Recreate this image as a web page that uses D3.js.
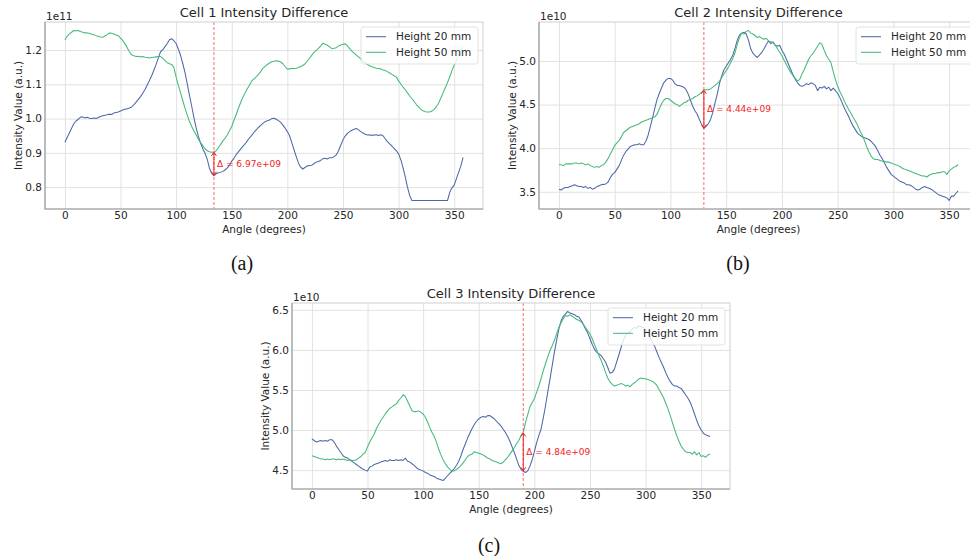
<!DOCTYPE html>
<html>
<head>
<meta charset="utf-8">
<script src="https://cdn.jsdelivr.net/npm/d3@7/dist/d3.min.js"></script>
<style>
  body { margin: 0; background: #fff; }
  svg { display: block; font-family: "DejaVu Sans", sans-serif; }
</style>
</head>
<body>
<svg id="figure" width="970" height="556"></svg>
<script>
// ---- data ----
var angleStep = 2;
var angles = d3.range(0, 360, angleStep); // 0, 2, ... 358 degrees
var xTickValues = [0, 50, 100, 150, 200, 250, 300, 350];
var seriesNames = ["Height 20 mm", "Height 50 mm"];
var seriesColors = ["#4c69a7", "#45b97b"];

// Cell 1, values in units of 1e11
var cell1H20 = [
  0.931,0.945,0.958,0.972,0.985,0.993,0.998,1.004,1.005,1.002,
  1.004,1.001,1.000,1.002,1.000,1.003,1.006,1.008,1.010,1.011,
  1.013,1.012,1.016,1.018,1.019,1.022,1.025,1.027,1.029,1.031,
  1.034,1.040,1.048,1.056,1.064,1.074,1.085,1.098,1.111,1.125,
  1.141,1.158,1.177,1.195,1.201,1.210,1.219,1.230,1.233,1.227,
  1.219,1.203,1.184,1.160,1.134,1.101,1.068,1.036,1.003,0.973,
  0.948,0.928,0.912,0.899,0.881,0.855,0.840,0.8333,0.839,0.842,
  0.843,0.846,0.850,0.856,0.864,0.876,0.884,0.895,0.903,0.911,
  0.919,0.926,0.935,0.944,0.951,0.960,0.967,0.974,0.980,0.986,
  0.991,0.994,0.996,1.000,1.001,0.998,0.994,0.989,0.981,0.972,
  0.962,0.950,0.930,0.909,0.889,0.870,0.858,0.853,0.858,0.862,
  0.863,0.864,0.869,0.873,0.875,0.878,0.883,0.884,0.882,0.886,
  0.886,0.889,0.894,0.906,0.922,0.938,0.949,0.957,0.962,0.966,
  0.969,0.971,0.967,0.962,0.958,0.954,0.952,0.953,0.951,0.952,
  0.953,0.951,0.953,0.950,0.941,0.933,0.926,0.920,0.913,0.906,
  0.897,0.880,0.857,0.830,0.800,0.775,0.761,0.761,0.761,0.761,
  0.761,0.761,0.761,0.761,0.761,0.761,0.761,0.761,0.761,0.761,
  0.761,0.761,0.761,0.785,0.798,0.806,0.825,0.843,0.862,0.887
];
var cell1H50 = [
  1.230,1.240,1.247,1.252,1.257,1.256,1.257,1.254,1.252,1.250,
  1.250,1.249,1.246,1.245,1.242,1.240,1.238,1.237,1.241,1.245,
  1.250,1.249,1.247,1.244,1.242,1.235,1.228,1.218,1.207,1.195,
  1.186,1.183,1.181,1.182,1.180,1.181,1.179,1.178,1.177,1.178,
  1.179,1.180,1.181,1.181,1.176,1.169,1.163,1.160,1.158,1.149,
  1.121,1.097,1.075,1.052,1.030,1.010,0.992,0.977,0.964,0.952,
  0.940,0.930,0.921,0.912,0.906,0.903,0.902,0.9030,0.906,0.915,
  0.924,0.935,0.942,0.952,0.965,0.977,0.995,1.012,1.030,1.047,
  1.062,1.075,1.087,1.098,1.110,1.116,1.122,1.129,1.137,1.147,
  1.152,1.158,1.162,1.166,1.167,1.169,1.168,1.165,1.160,1.152,
  1.144,1.145,1.146,1.146,1.147,1.149,1.152,1.155,1.160,1.168,
  1.176,1.185,1.193,1.199,1.205,1.212,1.220,1.217,1.214,1.209,
  1.204,1.205,1.207,1.212,1.215,1.217,1.218,1.212,1.204,1.197,
  1.191,1.185,1.180,1.174,1.168,1.162,1.158,1.154,1.151,1.149,
  1.147,1.146,1.145,1.142,1.140,1.137,1.133,1.129,1.125,1.121,
  1.110,1.101,1.092,1.084,1.075,1.066,1.058,1.050,1.041,1.034,
  1.027,1.023,1.020,1.019,1.019,1.022,1.027,1.035,1.045,1.060,
  1.075,1.090,1.105,1.122,1.140,1.156,1.170,1.188,1.200,1.208
];

// Cell 2, values in units of 1e10
var cell2H20 = [
  3.53,3.52,3.54,3.55,3.55,3.56,3.57,3.58,3.57,3.56,
  3.56,3.55,3.56,3.54,3.55,3.53,3.54,3.56,3.57,3.58,
  3.585,3.59,3.61,3.66,3.70,3.72,3.76,3.80,3.86,3.92,
  3.96,3.99,4.02,4.03,4.04,4.04,4.05,4.04,4.04,4.08,
  4.15,4.25,4.35,4.46,4.56,4.63,4.69,4.75,4.78,4.80,
  4.80,4.78,4.74,4.72,4.72,4.71,4.70,4.67,4.62,4.55,
  4.48,4.43,4.39,4.33,4.27,4.226,4.25,4.28,4.33,4.41,
  4.52,4.62,4.74,4.83,4.90,4.94,4.98,5.02,5.07,5.15,
  5.24,5.30,5.32,5.33,5.31,5.24,5.14,5.09,5.06,5.04,
  5.07,5.10,5.14,5.19,5.23,5.20,5.22,5.18,5.17,5.18,
  5.12,5.08,5.02,4.96,4.90,4.84,4.79,4.75,4.72,4.71,
  4.72,4.74,4.73,4.75,4.74,4.72,4.66,4.70,4.69,4.71,
  4.68,4.70,4.66,4.69,4.66,4.63,4.58,4.52,4.46,4.41,
  4.36,4.30,4.25,4.21,4.17,4.15,4.13,4.12,4.11,4.10,
  4.08,4.05,4.02,3.97,3.92,3.88,3.83,3.78,3.74,3.70,
  3.68,3.66,3.64,3.62,3.61,3.60,3.58,3.58,3.57,3.55,
  3.53,3.52,3.53,3.55,3.56,3.55,3.54,3.53,3.51,3.49,
  3.47,3.46,3.45,3.44,3.43,3.40,3.45,3.45,3.48,3.51
];
var cell2H50 = [
  3.81,3.81,3.80,3.82,3.82,3.82,3.82,3.83,3.83,3.82,
  3.83,3.82,3.81,3.82,3.80,3.79,3.78,3.79,3.78,3.80,
  3.81,3.84,3.88,3.93,3.98,4.03,4.06,4.09,4.13,4.18,
  4.20,4.22,4.24,4.25,4.26,4.27,4.28,4.30,4.31,4.32,
  4.33,4.34,4.35,4.36,4.39,4.45,4.51,4.55,4.57,4.57,
  4.55,4.53,4.51,4.50,4.48,4.50,4.52,4.53,4.55,4.56,
  4.57,4.59,4.60,4.62,4.64,4.670,4.67,4.67,4.68,4.70,
  4.72,4.74,4.77,4.81,4.85,4.89,4.93,4.98,5.03,5.10,
  5.19,5.27,5.32,5.31,5.34,5.35,5.32,5.31,5.29,5.27,
  5.28,5.26,5.25,5.26,5.23,5.22,5.21,5.18,5.14,5.10,
  5.06,5.01,4.96,4.91,4.87,4.83,4.80,4.77,4.79,4.85,
  4.90,4.96,5.02,5.06,5.09,5.13,5.17,5.21,5.19,5.12,
  5.06,5.02,4.98,4.88,4.79,4.71,4.65,4.60,4.54,4.49,
  4.44,4.40,4.35,4.31,4.26,4.20,4.15,4.09,4.02,3.96,
  3.91,3.88,3.87,3.87,3.86,3.85,3.85,3.84,3.84,3.83,
  3.82,3.81,3.80,3.79,3.77,3.76,3.75,3.74,3.73,3.72,
  3.71,3.70,3.69,3.68,3.68,3.67,3.69,3.70,3.71,3.71,
  3.72,3.72,3.73,3.73,3.70,3.74,3.76,3.78,3.79,3.81
];

// Cell 3, values in units of 1e10
var cell3H20 = [
  4.89,4.87,4.85,4.86,4.87,4.86,4.87,4.86,4.88,4.88,
  4.85,4.80,4.76,4.72,4.68,4.66,4.65,4.63,4.61,4.59,
  4.57,4.55,4.53,4.51,4.50,4.49,4.54,4.55,4.57,4.58,
  4.59,4.60,4.61,4.62,4.61,4.63,4.62,4.62,4.63,4.62,
  4.63,4.62,4.65,4.61,4.60,4.58,4.56,4.53,4.51,4.50,
  4.49,4.47,4.46,4.44,4.43,4.42,4.40,4.39,4.38,4.37,
  4.40,4.43,4.46,4.49,4.52,4.56,4.61,4.68,4.76,4.83,
  4.90,4.96,5.02,5.07,5.11,5.14,5.16,5.17,5.16,5.18,
  5.18,5.16,5.14,5.11,5.08,5.05,5.01,4.97,4.92,4.86,
  4.79,4.72,4.64,4.56,4.51,4.486,4.47,4.49,4.55,4.63,
  4.73,4.84,4.93,5.01,5.15,5.30,5.47,5.63,5.80,5.97,
  6.12,6.26,6.36,6.42,6.45,6.48,6.46,6.45,6.44,6.42,
  6.41,6.37,6.32,6.26,6.21,6.14,6.07,6.01,5.97,5.95,
  5.93,5.89,5.85,5.78,5.71,5.72,5.76,5.85,5.94,6.03,
  6.12,6.18,6.21,6.23,6.26,6.28,6.27,6.30,6.29,6.28,
  6.25,6.21,6.16,6.10,6.05,5.98,5.91,5.85,5.79,5.72,
  5.66,5.61,5.57,5.55,5.55,5.53,5.52,5.48,5.44,5.40,
  5.35,5.28,5.20,5.12,5.05,5.00,4.96,4.94,4.93,4.92
];
var cell3H50 = [
  4.68,4.67,4.66,4.65,4.64,4.64,4.63,4.64,4.63,4.64,
  4.64,4.63,4.64,4.63,4.64,4.63,4.62,4.63,4.62,4.62,
  4.63,4.65,4.67,4.70,4.72,4.79,4.85,4.90,4.95,5.02,
  5.07,5.12,5.16,5.20,5.24,5.27,5.29,5.31,5.33,5.37,
  5.40,5.44,5.42,5.36,5.30,5.24,5.23,5.23,5.24,5.22,
  5.20,5.16,5.10,5.03,4.97,4.92,4.85,4.76,4.69,4.63,
  4.58,4.54,4.51,4.49,4.49,4.51,4.53,4.56,4.59,4.63,
  4.67,4.69,4.70,4.73,4.72,4.71,4.70,4.69,4.67,4.65,
  4.64,4.62,4.61,4.60,4.59,4.58,4.60,4.63,4.66,4.70,
  4.74,4.78,4.83,4.87,4.93,4.97,5.09,5.19,5.29,5.34,
  5.39,5.47,5.55,5.64,5.74,5.83,5.91,5.99,6.05,6.12,
  6.20,6.28,6.34,6.39,6.43,6.42,6.44,6.42,6.40,6.38,
  6.37,6.35,6.32,6.28,6.24,6.20,6.14,6.07,6.00,5.93,
  5.87,5.80,5.72,5.65,5.60,5.57,5.55,5.56,5.57,5.58,
  5.57,5.55,5.56,5.54,5.57,5.59,5.61,5.64,5.65,5.64,
  5.64,5.63,5.62,5.61,5.59,5.56,5.51,5.46,5.41,5.34,
  5.27,5.19,5.10,5.01,4.93,4.86,4.80,4.76,4.73,4.72,
  4.72,4.70,4.73,4.69,4.72,4.67,4.68,4.66,4.69,4.70
];

var panelTitles = ["Cell 1 Intensity Difference", "Cell 2 Intensity Difference", "Cell 3 Intensity Difference"];
var offsetTexts = ["1e11", "1e10", "1e10"];
var offsetScales = [1e11, 1e10, 1e10];
var markAngles = [134, 130, 190];
var captions = ["(a)", "(b)", "(c)"];

// ---- drawing ----
var svg = d3.select("#figure");
var textColor = "#262626";

svg.append("rect").attr("width", 970).attr("height", 556).attr("fill", "#fff");

var defs = svg.append("defs");

function padExtent(values) {
  var ext = d3.extent(values);
  var pad = (ext[1] - ext[0]) * 0.05;
  return [ext[0] - pad, ext[1] + pad];
}

function sciText(v) {
  // matplotlib style exponent: 6.97e+09
  return v.toExponential(2).replace(/e([+-])(\d)$/, "e$10$2");
}

/**
 * Draw one panel
 * @param {object} p - box {left, right, top, bottom}, series, labels
 */
function drawPanel(p, idx) {
  var g = svg.append("g").attr("class", "panel" + idx);
  var clipId = "clip" + idx;

  var x = d3.scaleLinear()
    .domain(padExtent(angles))
    .range([p.left, p.right]);

  var y = d3.scaleLinear()
    .domain(padExtent(p.h20.concat(p.h50)))
    .range([p.bottom, p.top]);

  defs.append("clipPath").attr("id", clipId)
    .append("rect")
      .attr("x", p.left).attr("y", p.top)
      .attr("width", p.right - p.left).attr("height", p.bottom - p.top);

  // grid + tick labels
  var xAxis = d3.axisBottom(x)
    .tickValues(xTickValues)
    .tickSize(-(p.bottom - p.top))
    .tickPadding(3)
    .tickFormat(d3.format("d"));

  var yAxis = d3.axisLeft(y)
    .ticks(5)
    .tickSize(-(p.right - p.left))
    .tickPadding(3)
    .tickFormat(d3.format(".1f"));

  var gx = g.append("g")
    .attr("transform", `translate(0,${p.bottom})`)
    .call(xAxis);
  var gy = g.append("g")
    .attr("transform", `translate(${p.left},0)`)
    .call(yAxis);

  [gx, gy].forEach(ax => {
    ax.select(".domain").remove();
    ax.selectAll(".tick line").attr("stroke", "#e2e2e2").attr("stroke-width", 1);
    ax.selectAll(".tick text")
      .attr("fill", textColor)
      .style("font-size", "10.5px")
      .style("font-family", "DejaVu Sans");
  });

  // series lines
  var line = d3.line()
    .x((d, i) => x(angles[i]))
    .y(d => y(d));

  var lines = g.append("g").attr("clip-path", `url(#${clipId})`);
  [p.h20, p.h50].forEach((s, k) => {
    lines.append("path")
      .datum(s)
      .attr("d", line)
      .attr("fill", "none")
      .attr("stroke", seriesColors[k])
      .attr("stroke-width", 1.05)
      .attr("stroke-linejoin", "round");
  });

  // marker at the chosen angle
  var mi = angles.indexOf(p.mark);
  var mx = x(p.mark);
  var yA = y(p.h20[mi]), yB = y(p.h50[mi]);
  var delta = Math.abs(p.h50[mi] - p.h20[mi]) * p.scale;

  g.append("line")
    .attr("x1", mx).attr("x2", mx)
    .attr("y1", p.top).attr("y2", p.bottom)
    .attr("stroke", "#ff4040")
    .attr("stroke-width", 0.8)
    .attr("stroke-dasharray", "3,2");

  var top = Math.min(yA, yB), bot = Math.max(yA, yB);
  g.append("line")
    .attr("x1", mx).attr("x2", mx)
    .attr("y1", top + 0.5).attr("y2", bot - 0.5)
    .attr("stroke", "#f01c1c")
    .attr("stroke-width", 1);
  g.append("path")
    .attr("d", `M${mx - 2.5},${top + 4}L${mx},${top + 0.5}L${mx + 2.5},${top + 4}` +
               `M${mx - 2.5},${bot - 4}L${mx},${bot - 0.5}L${mx + 2.5},${bot - 4}`)
    .attr("fill", "none")
    .attr("stroke", "#f01c1c")
    .attr("stroke-width", 1);

  g.append("text")
    .attr("x", mx + 3)
    .attr("y", (top + bot) / 2)
    .attr("dy", "0.35em")
    .attr("fill", "#f22222")
    .style("font-size", "9px")
    .text("\u0394 = " + sciText(delta));

  // legend
  var lx = p.right - 122, ly = p.top + 5;
  g.append("rect")
    .attr("x", lx).attr("y", ly)
    .attr("width", 117).attr("height", 37)
    .attr("rx", 2.5)
    .attr("fill", "#fff").attr("fill-opacity", 0.8)
    .attr("stroke", "#d9d9d9").attr("stroke-width", 0.8);

  seriesNames.forEach((name, k) => {
    var ry = ly + 9.7 + k * 15.6;
    g.append("line")
      .attr("x1", lx + 5).attr("x2", lx + 25)
      .attr("y1", ry).attr("y2", ry)
      .attr("stroke", seriesColors[k]).attr("stroke-width", 1.05);
    g.append("text")
      .attr("x", lx + 35).attr("y", ry)
      .attr("dy", "0.36em")
      .attr("fill", textColor)
      .style("font-size", "10.5px")
      .text(name);
  });

  // spines
  g.append("rect")
    .attr("x", p.left).attr("y", p.top)
    .attr("width", p.right - p.left).attr("height", p.bottom - p.top)
    .attr("fill", "none").attr("stroke", "#cfcfcf").attr("stroke-width", 1);
  g.append("path")
    .attr("d", `M${p.left},${p.top}V${p.bottom}H${p.right}`)
    .attr("fill", "none").attr("stroke", "#9a9a9a").attr("stroke-width", 1.1);

  // title, offset text, axis labels
  g.append("text")
    .attr("x", (p.left + p.right) / 2).attr("y", p.top - 5)
    .attr("text-anchor", "middle")
    .attr("fill", textColor)
    .style("font-size", "13px")
    .text(p.title);

  g.append("text")
    .attr("x", p.left + 1).attr("y", p.top - 2)
    .attr("fill", textColor)
    .style("font-size", "10.5px")
    .text(p.offset);

  g.append("text")
    .attr("x", (p.left + p.right) / 2).attr("y", p.bottom + 24)
    .attr("text-anchor", "middle")
    .attr("fill", textColor)
    .style("font-size", "10.5px")
    .text("Angle (degrees)");

  g.append("text")
    .attr("transform", `translate(${p.left - 23},${(p.top + p.bottom) / 2}) rotate(-90)`)
    .attr("text-anchor", "middle")
    .attr("fill", textColor)
    .style("font-size", "10.5px")
    .text("Intensity Value (a.u.)");

  // caption under the panel
  svg.append("text")
    .attr("x", p.capX).attr("y", p.capY)
    .attr("text-anchor", "middle")
    .attr("fill", "#111")
    .style("font-family", "'Liberation Serif', 'Times New Roman', serif")
    .style("font-size", "20px")
    .text(p.caption);
}

var panels = [
  {left: 45, right: 483, top: 22, bottom: 209, h20: cell1H20, h50: cell1H50, capX: 242, capY: 270},
  {left: 539, right: 978, top: 22, bottom: 209, h20: cell2H20, h50: cell2H50, capX: 738, capY: 270},
  {left: 292, right: 730, top: 303, bottom: 489, h20: cell3H20, h50: cell3H50, capX: 489, capY: 552}
];

panels.forEach((p, i) => {
  p.title = panelTitles[i];
  p.offset = offsetTexts[i];
  p.scale = offsetScales[i];
  p.mark = markAngles[i];
  p.caption = captions[i];
  drawPanel(p, i);
});
</script>
</body>
</html>
